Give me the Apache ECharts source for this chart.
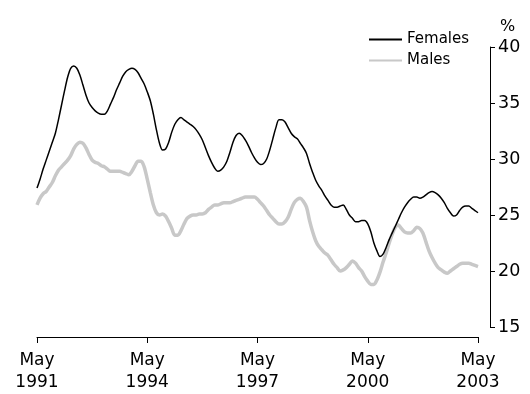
<!DOCTYPE html>
<html>
<head>
<meta charset="utf-8">
<script src="https://cdn.jsdelivr.net/npm/echarts@6/dist/echarts.min.js"></script>
<style>
html,body{margin:0;padding:0;background:#fff;}
#chart{width:530px;height:394px;}
</style>
</head>
<body>
<div id="chart"></div>
<script>
// Monthly, May 1991 – May 2003
const startYear = 1991;
const monthNames = ['Jan','Feb','Mar','Apr','May','Jun','Jul','Aug','Sep','Oct','Nov','Dec'];

const females = [
27.4,28.2,29.1,29.9,30.7,31.5,32.3,33.5,34.8,36.1,37.3,38.1,
38.3,38.1,37.5,36.6,35.7,35.0,34.6,34.3,34.1,34.0,34.0,34.3,
34.9,35.5,36.2,36.8,37.4,37.8,38.0,38.1,38.0,37.7,37.2,36.7,
36.0,35.2,34.0,32.6,31.4,30.8,30.9,31.5,32.4,33.1,33.5,33.7,
33.5,33.3,33.1,32.9,32.6,32.2,31.7,31.0,30.3,29.7,29.2,28.9,
29.0,29.3,29.8,30.6,31.5,32.1,32.3,32.1,31.7,31.2,30.6,30.1,
29.7,29.5,29.6,30.0,30.8,31.8,32.8,33.5,33.5,33.3,32.8,32.3,
32.0,31.8,31.4,31.0,30.5,29.6,28.8,28.1,27.6,27.2,26.7,26.3,
25.9,25.7,25.7,25.8,25.9,25.5,25.0,24.7,24.4,24.4,24.5,24.5,
24.2,23.5,22.5,21.8,21.3,21.5,22.1,22.8,23.4,24.0,24.6,25.2,
25.7,26.1,26.4,26.6,26.6,26.5,26.6,26.8,27.0,27.1,27.0,26.8,
26.5,26.1,25.6,25.2,24.9,25.0,25.4,25.7,25.8,25.8,25.6,25.4,
25.2
];

const males = [
25.9,26.5,26.9,27.1,27.5,27.9,28.5,29.0,29.3,29.6,29.9,30.3,
30.9,31.3,31.5,31.4,31.0,30.4,29.9,29.7,29.6,29.4,29.3,29.1,
28.9,28.9,28.9,28.9,28.8,28.7,28.6,28.9,29.4,29.8,29.8,29.3,
28.2,27.0,25.9,25.2,25.0,25.1,24.9,24.4,23.8,23.2,23.2,23.6,
24.2,24.7,24.9,25.0,25.0,25.1,25.1,25.2,25.5,25.7,25.9,25.9,
26.0,26.1,26.1,26.1,26.2,26.3,26.4,26.5,26.6,26.6,26.6,26.6,
26.4,26.1,25.8,25.4,25.0,24.7,24.4,24.2,24.2,24.4,24.8,25.5,
26.1,26.4,26.5,26.2,25.7,24.5,23.5,22.7,22.2,21.9,21.6,21.4,
21.0,20.6,20.3,20.0,20.1,20.3,20.6,20.9,20.7,20.3,20.0,19.5,
19.1,18.8,18.8,19.2,19.9,20.8,21.6,22.5,23.3,23.9,24.1,23.8,
23.5,23.4,23.4,23.6,23.9,23.8,23.4,22.6,21.8,21.2,20.7,20.3,
20.1,19.9,19.8,20.0,20.2,20.4,20.6,20.7,20.7,20.7,20.6,20.5,
20.4
];

const yTicks = [15, 20, 25, 30, 35, 40];

const categories = [];
for (let i = 0; i < females.length; i++) {
  const m = (4 + i) % 12;
  const y = startYear + Math.floor((4 + i) / 12);
  categories.push(monthNames[m] + '\n' + y);
}

const FONT = 'DejaVu Sans';
const chart = echarts.init(document.getElementById('chart'), null, {renderer: 'canvas'});
chart.setOption({
  animation: false,
  backgroundColor: '#ffffff',
  textStyle: {fontFamily: FONT},
  grid: {left: 37, right: 52, top: 47, bottom: 62, containLabel: false},
  legend: {
    orient: 'vertical',
    left: 363,
    top: 27,
    itemWidth: 33,
    itemHeight: 14,
    itemGap: 6,
    itemStyle: {opacity: 0},
    textStyle: {fontFamily: FONT, fontSize: 15, color: '#000'},
    data: ['Females', 'Males']
  },
  xAxis: {
    type: 'category',
    boundaryGap: false,
    data: categories,
    offset: 10,
    axisLine: {lineStyle: {color: '#000', width: 1}},
    axisTick: {show: true, interval: 35, length: 6, lineStyle: {color: '#000'}},
    axisLabel: {interval: 35, margin: 13, fontFamily: FONT, fontSize: 17, color: '#000', lineHeight: 22},
    splitLine: {show: false}
  },
  yAxis: {
    type: 'value',
    position: 'right',
    offset: 12,
    min: yTicks[0],
    max: yTicks[yTicks.length - 1],
    interval: 5,
    name: '%',
    nameLocation: 'end',
    nameGap: 12,
    nameTextStyle: {fontFamily: FONT, fontSize: 16, color: '#000', align: 'left', padding: [0, 0, 0, 10]},
    axisLine: {show: true, lineStyle: {color: '#000', width: 1}},
    axisTick: {show: true, length: 5, lineStyle: {color: '#000'}},
    axisLabel: {margin: 8, fontFamily: FONT, fontSize: 17.5, color: '#000'},
    splitLine: {show: false}
  },
  series: [
    {
      name: 'Females', type: 'line', data: females, symbol: 'none', smooth: 0.3,
      lineStyle: {color: '#000000', width: 1.5}, itemStyle: {color: '#000000'}, z: 3
    },
    {
      name: 'Males', type: 'line', data: males, symbol: 'none', smooth: 0.3,
      lineStyle: {color: '#c8c8c8', width: 3.5}, itemStyle: {color: '#c8c8c8'}, z: 2
    }
  ]
});
</script>
</body>
</html>
